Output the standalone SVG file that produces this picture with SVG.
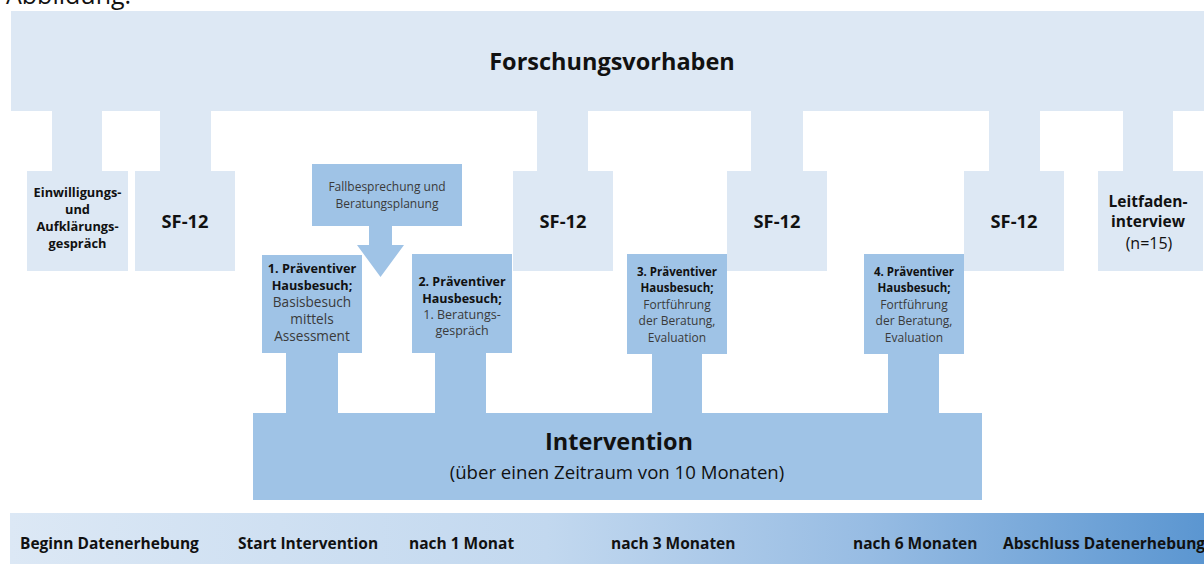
<svg xmlns="http://www.w3.org/2000/svg" width="1204" height="564" viewBox="0 0 1204 564">
<defs>
<style>
.light{fill:#dde8f4}
.mid{fill:#9fc3e6}
text{font-family:"Open Sans","Liberation Sans",sans-serif;text-anchor:middle;fill:#111}
.b{font-weight:bold}
.s{font-size:12px}
.m{font-size:13px}
.g{fill:#3a3a3a}
.sf{font-size:18.3px;font-weight:bold}
.tl{font-size:15.5px;font-weight:bold;text-anchor:start}
</style>
<linearGradient id="bar" x1="0" y1="0" x2="1" y2="0">
<stop offset="0" stop-color="#dce8f5"/>
<stop offset="0.45" stop-color="#c2d8ef"/>
<stop offset="0.72" stop-color="#97bce3"/>
<stop offset="1" stop-color="#5b96d1"/>
</linearGradient>
</defs>
<rect width="1204" height="564" fill="#fff"/>
<text x="6" y="4" style="font-size:25px;text-anchor:start">Abbildung:</text>

<g id="connectors">
<rect class="light" x="52" y="110" width="50" height="62"/>
<rect class="light" x="160" y="110" width="51" height="62"/>
<rect class="light" x="537" y="110" width="51" height="62"/>
<rect class="light" x="751" y="110" width="52" height="62"/>
<rect class="light" x="989" y="110" width="51" height="62"/>
<rect class="light" x="1123" y="110" width="50" height="62"/>
<rect class="mid" x="286" y="352" width="52" height="62"/>
<rect class="mid" x="435" y="352" width="51" height="62"/>
<rect class="mid" x="652" y="352" width="50" height="62"/>
<rect class="mid" x="888" y="352" width="51" height="62"/>
</g>

<g id="forschungsvorhaben">
<rect class="light" x="11" y="11" width="1193" height="100"/>
<text class="b" x="612" y="70" style="font-size:23.5px">Forschungsvorhaben</text>
</g>

<g id="einwilligung">
<rect class="light" x="27" y="171" width="101" height="100"/>
<text class="b" x="77.5" y="197" style="font-size:12.8px">Einwilligungs-</text>
<text class="b" x="77.5" y="214" style="font-size:12.8px">und</text>
<text class="b" x="77.5" y="231" style="font-size:12.8px">Aufklärungs-</text>
<text class="b" x="77.5" y="248" style="font-size:12.8px">gespräch</text>
</g>

<g id="sf12-1">
<rect class="light" x="135" y="171" width="100" height="100"/>
<text class="sf" x="185" y="228">SF-12</text>
</g>

<g id="fallbesprechung">
<path class="mid" d="M312,164 H462 V226 H392 V245 H404 L380.5,277 L357,245 H369 V226 H312 Z"/>
<text class="s g" x="387" y="191">Fallbesprechung und</text>
<text class="s g" x="387" y="208">Beratungsplanung</text>
</g>

<g id="besuch1">
<rect class="mid" x="262" y="255" width="100" height="98"/>
<text class="m b" x="312" y="273" style="font-size:12.7px">1. Präventiver</text>
<text class="m b" x="312" y="290" style="font-size:12.7px">Hausbesuch;</text>
<text class="m g" x="312" y="307" style="font-size:13.6px">Basisbesuch</text>
<text class="m g" x="312" y="324" style="font-size:13.6px">mittels</text>
<text class="m g" x="312" y="341" style="font-size:13.6px">Assessment</text>
</g>

<g id="besuch2">
<rect class="mid" x="412" y="254" width="100" height="99"/>
<text class="b" x="462" y="286" style="font-size:12.5px">2. Präventiver</text>
<text class="b" x="462" y="303" style="font-size:12.5px">Hausbesuch;</text>
<text class="g" x="462" y="319" style="font-size:12.5px">1. Beratungs-</text>
<text class="g" x="462" y="335" style="font-size:12.5px">gespräch</text>
</g>

<g id="sf12-2">
<rect class="light" x="513" y="171" width="100" height="100"/>
<text class="sf" x="563" y="228">SF-12</text>
</g>

<g id="besuch3">
<rect class="mid" x="627" y="254" width="100" height="100"/>
<text class="b" x="677" y="276" style="font-size:11.5px">3. Präventiver</text>
<text class="b" x="677" y="292" style="font-size:11.5px">Hausbesuch;</text>
<text class="s g" x="677" y="309">Fortführung</text>
<text class="s g" x="677" y="325">der Beratung,</text>
<text class="s g" x="677" y="342">Evaluation</text>
</g>

<g id="sf12-3">
<rect class="light" x="727" y="171" width="100" height="100"/>
<text class="sf" x="777" y="228">SF-12</text>
</g>

<g id="besuch4">
<rect class="mid" x="864" y="254" width="100" height="100"/>
<text class="b" x="914" y="276" style="font-size:11.5px">4. Präventiver</text>
<text class="b" x="914" y="292" style="font-size:11.5px">Hausbesuch;</text>
<text class="s g" x="914" y="309">Fortführung</text>
<text class="s g" x="914" y="325">der Beratung,</text>
<text class="s g" x="914" y="342">Evaluation</text>
</g>

<g id="sf12-4">
<rect class="light" x="964" y="171" width="100" height="100"/>
<text class="sf" x="1014" y="228">SF-12</text>
</g>

<g id="leitfaden">
<rect class="light" x="1098" y="171" width="105" height="100"/>
<text class="b" x="1148" y="207" style="font-size:15.5px">Leitfaden-</text>
<text class="b" x="1148" y="227" style="font-size:15.5px">interview</text>
<text x="1149" y="249" style="font-size:16px">(n=15)</text>
</g>

<g id="intervention">
<rect class="mid" x="253" y="413" width="729" height="87"/>
<text class="b" x="619" y="450" style="font-size:23.5px">Intervention</text>
<text x="617" y="479" style="font-size:18.6px">(über einen Zeitraum von 10 Monaten)</text>
</g>

<g id="zeitleiste">
<rect x="10" y="513" width="1194" height="51" fill="url(#bar)"/>
<text class="tl" x="20" y="549">Beginn Datenerhebung</text>
<text class="tl" x="238" y="549">Start Intervention</text>
<text class="tl" x="409" y="549">nach 1 Monat</text>
<text class="tl" x="611" y="549">nach 3 Monaten</text>
<text class="tl" x="853" y="549">nach 6 Monaten</text>
<text class="tl" x="1003" y="549">Abschluss Datenerhebung</text>
</g>
</svg>
